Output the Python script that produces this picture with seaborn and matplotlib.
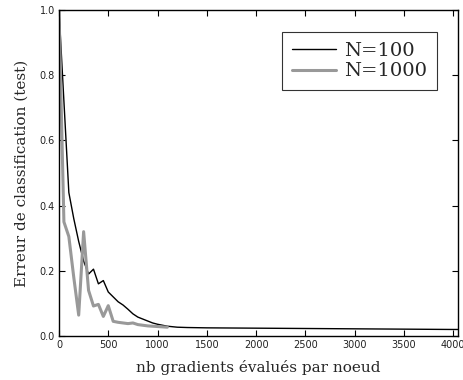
import matplotlib
matplotlib.use("Agg")
import matplotlib.pyplot as plt
import seaborn as sns
import pandas as pd

# Test classification error versus number of gradients evaluated per node
x_n100 = [0, 100, 150, 200, 250, 300, 350, 400, 450, 500, 550, 600, 650, 700,
          750, 800, 850, 900, 950, 1000, 1100, 1200, 1300, 1500, 2000, 2500,
          3000, 3500, 4000, 4050]
err_n100 = [1.0, 0.44, 0.36, 0.29, 0.23, 0.19, 0.205, 0.16, 0.17, 0.135, 0.12,
            0.105, 0.095, 0.082, 0.068, 0.058, 0.052, 0.046, 0.040, 0.036,
            0.030, 0.027, 0.026, 0.025, 0.024, 0.023, 0.022, 0.021, 0.020,
            0.020]

x_n1000 = [0, 50, 100, 150, 200, 250, 300, 350, 400, 450, 500, 550, 600, 650,
           700, 750, 800, 850, 900, 950, 1000, 1050, 1100]
err_n1000 = [1.0, 0.35, 0.305, 0.18, 0.064, 0.32, 0.14, 0.092, 0.097, 0.06,
             0.093, 0.045, 0.042, 0.04, 0.038, 0.04, 0.035, 0.033, 0.031, 0.03,
             0.029, 0.028, 0.027]

labels = ["N=100", "N=1000"]
x_ticks = [0, 500, 1000, 1500, 2000, 2500, 3000, 3500, 4000]
y_ticks = [0.0, 0.2, 0.4, 0.6, 0.8, 1.0]

df = pd.concat([
    pd.DataFrame({"grad": x_n100, "err": err_n100, "N": labels[0]}),
    pd.DataFrame({"grad": x_n1000, "err": err_n1000, "N": labels[1]}),
])

sns.set_style("ticks")
plt.rcParams["font.family"] = ["DejaVu Sans"]

fig = plt.figure(figsize=(4.63, 3.80), dpi=100)
ax = fig.add_axes([0.1274, 0.1158, 0.862, 0.858])

sns.lineplot(data=df, x="grad", y="err", hue="N", hue_order=labels,
             palette={labels[0]: "black", labels[1]: "#999999"},
             size="N", sizes={labels[0]: 1.0, labels[1]: 2.2},
             estimator=None, sort=False, ax=ax)

ax.set_xlim(0, 4050)
ax.set_ylim(0, 1.0)
ax.set_xticks(x_ticks)
ax.set_yticks(y_ticks)
ax.set_xticklabels([str(t) for t in x_ticks])
ax.set_yticklabels([f"{t:.1f}" for t in y_ticks])
ax.tick_params(direction="in", length=4, width=0.8, labelsize=7,
               top=True, right=True, pad=3, colors="black",
               labelcolor="#222222")
for s in ax.spines.values():
    s.set_visible(True)
    s.set_color("black")
    s.set_linewidth(1.0)

ax.set_xlabel("nb gradients évalués par noeud", family="DejaVu Serif",
              fontsize=11, labelpad=7)
ax.set_ylabel("Erreur de classification (test)", family="DejaVu Serif",
              fontsize=11, labelpad=8)

handles, _ = ax.get_legend_handles_labels()
leg = ax.legend(handles=handles, labels=labels, loc="upper right",
                bbox_to_anchor=(0.947, 0.933), borderaxespad=0,
                prop={"family": "DejaVu Serif", "size": 14},
                frameon=True, fancybox=False, handlelength=2.3,
                handletextpad=0.4, labelspacing=0.15, borderpad=0.5)
leg.get_frame().set_edgecolor("black")
leg.get_frame().set_linewidth(0.8)

fig.savefig("out.png", dpi=100)
